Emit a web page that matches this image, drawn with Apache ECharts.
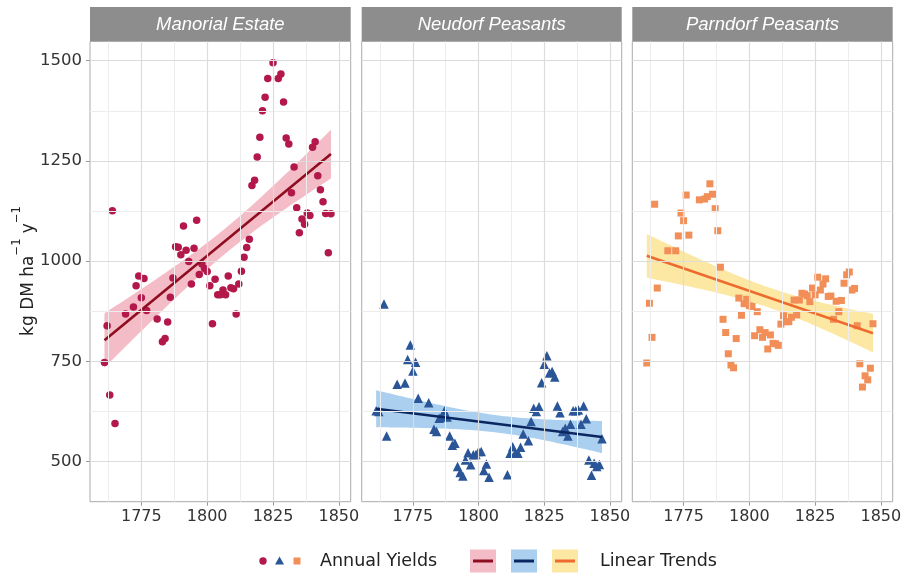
<!DOCTYPE html>
<html><head><meta charset="utf-8">
<script src="https://cdn.jsdelivr.net/npm/echarts@6/dist/echarts.min.js"></script>
<style>html,body{margin:0;padding:0;background:#fff}#c{width:907px;height:573px}</style>
</head><body><div id="c"></div>
<script>
// ---------- data ----------
const panelTitles = ['Manorial Estate', 'Neudorf Peasants', 'Parndorf Peasants'];
const xTicks = [1775, 1800, 1825, 1850];
const xMinor = [1762.5, 1787.5, 1812.5, 1837.5];
const yTicks = [500, 750, 1000, 1250, 1500];
const yMinor = [625, 875, 1125, 1375];

const manorialYears = [1761,1762,1763,1764,1765,1769,1772,1773,1774,1775,1776,1777,1781,1783,1784,1785,1786,1787,1788,1789,1790,1791,1792,1793,1794,1795,1796,1797,1798,1799,1800,1801,1802,1803,1804,1805,1806,1807,1808,1809,1810,1811,1812,1813,1814,1815,1816,1817,1818,1819,1820,1821,1822,1823,1825,1827,1828,1829,1830,1831,1832,1833,1834,1835,1836,1837,1838,1839,1840,1841,1842,1843,1844,1845,1846,1847];
const manorialYields = [747,839,666,1126,595,868,886,939,963,909,957,877,856,799,807,848,910,958,1036,1035,1016,1088,1027,999,943,1032,1102,967,993,982,974,939,844,955,916,916,928,916,963,934,931,868,943,975,1010,1034,1055,1189,1202,1260,1309,1375,1409,1456,1495,1456,1467,1397,1307,1292,1171,1235,1133,1071,1105,1092,1120,1114,1284,1298,1213,1178,1148,1119,1021,1118];

const neudorfYears = [1761,1762,1764,1765,1769,1772,1773,1774,1775,1776,1777,1781,1783,1784,1785,1786,1787,1788,1789,1790,1791,1792,1793,1794,1795,1796,1797,1798,1799,1800,1801,1802,1803,1804,1811,1812,1813,1814,1815,1816,1817,1819,1820,1821,1822,1823,1824,1825,1826,1827,1828,1829,1830,1831,1832,1833,1834,1835,1836,1837,1838,1839,1840,1841,1842,1843,1844,1845,1846,1847];
const neudorfYields = [627,625,893,564,693,696,755,791,726,748,658,647,581,575,608,612,626,611,564,541,546,488,473,464,504,522,492,517,518,525,525,478,494,461,467,521,537,521,521,536,569,552,600,633,625,637,697,743,764,721,725,711,639,622,575,583,564,593,627,627,629,593,639,607,504,466,496,488,493,557];

const parndorfYears = [1761,1762,1763,1764,1765,1769,1772,1773,1774,1775,1776,1777,1781,1783,1784,1785,1786,1787,1788,1789,1790,1791,1792,1793,1794,1795,1796,1797,1798,1799,1800,1801,1802,1803,1804,1805,1806,1807,1808,1809,1810,1811,1812,1813,1814,1815,1816,1817,1818,1819,1820,1821,1822,1823,1824,1825,1826,1827,1828,1829,1830,1831,1832,1833,1834,1835,1836,1837,1838,1839,1840,1841,1842,1843,1844,1845,1846,1847];
const parndorfYields = [746,895,810,1142,933,1026,1026,1063,1120,1101,1165,1065,1153,1155,1161,1193,1167,1131,1076,985,855,822,769,741,734,807,908,865,894,905,889,887,814,874,829,810,822,781,816,795,794,790,843,864,849,849,860,903,866,903,920,918,914,899,933,916,960,928,943,956,912,913,855,900,874,902,945,966,973,928,932,839,744,686,714,704,733,844];

// ---------- styling ----------
const X_MIN = 1755.5, X_MAX = 1854.5, Y_MIN = 400, Y_MAX = 1548;
const GRID_TOP = 41.5, GRID_H = 460.2;
const gridLefts = [90, 361.7, 632.3];
const gridWidths = [260.7, 260, 260.4];
const pointColors = ['#B3184B', '#2A5698', '#F28F58'];
const lineColors = ['#8E0E1F', '#0C2660', '#EE6B2F'];
const ribbonColors = ['#F4BCC7', '#AACFEF', '#FCE8A3'];
const symbols = ['circle', 'triangle', 'rect'];
const symbolSizes = [7.5, 9.5, 7];
const FONT = 'DejaVu Sans';

const panels = [
  [manorialYears, manorialYields],
  [neudorfYears, neudorfYields],
  [parndorfYears, parndorfYields]
];

// ordinary least squares fit with 95% confidence band (like geom_smooth(method = "lm"))
function linFit(xs, ys, nPts) {
  const n = xs.length;
  const mx = xs.reduce((a, b) => a + b, 0) / n;
  const my = ys.reduce((a, b) => a + b, 0) / n;
  let sxx = 0, sxy = 0;
  for (let i = 0; i < n; i++) { sxx += (xs[i] - mx) ** 2; sxy += (xs[i] - mx) * (ys[i] - my); }
  const b = sxy / sxx, a = my - b * mx;
  let sse = 0;
  for (let i = 0; i < n; i++) sse += (ys[i] - a - b * xs[i]) ** 2;
  const s = Math.sqrt(sse / (n - 2));
  const df = n - 2, z = 1.959964;
  const t = z + (z ** 3 + z) / (4 * df) + (5 * z ** 5 + 16 * z ** 3 + 3 * z) / (96 * df * df);
  const x0 = Math.min(...xs), x1 = Math.max(...xs);
  const band = [];
  for (let k = 0; k <= nPts; k++) {
    const x = x0 + (x1 - x0) * k / nPts;
    const yh = a + b * x;
    const se = s * Math.sqrt(1 / n + (x - mx) ** 2 / sxx);
    band.push([x, yh - t * se, yh + t * se]);
  }
  return { band, line: [[x0, a + b * x0], [x1, a + b * x1]] };
}

const plain = v => String(v);
const grids = [], xAxes = [], yAxes = [], series = [], graphics = [];

panels.forEach((p, i) => {
  grids.push({ left: gridLefts[i], top: GRID_TOP, width: gridWidths[i], height: GRID_H,
    show: true, borderColor: '#ABABAB', borderWidth: 1, backgroundColor: '#fff', containLabel: false });
  xAxes.push({ type: 'value', gridIndex: i, min: X_MIN, max: X_MAX,
    axisLine: { show: false }, splitLine: { show: false },
    axisTick: { show: true, length: 4, lineStyle: { color: '#9A9A9A', width: 1 }, customValues: xTicks },
    axisLabel: { show: true, customValues: xTicks, formatter: plain, fontSize: 16, color: '#333', fontFamily: FONT, margin: 7 } });
  yAxes.push({ type: 'value', gridIndex: i, min: Y_MIN, max: Y_MAX,
    axisLine: { show: false }, splitLine: { show: false },
    axisTick: { show: i === 0, length: 4, lineStyle: { color: '#9A9A9A', width: 1 }, customValues: yTicks },
    axisLabel: { show: i === 0, customValues: yTicks, formatter: plain, fontSize: 16.5, color: '#333', fontFamily: FONT, margin: 8 } });

  // grid lines
  const ml = [];
  xMinor.forEach(v => ml.push({ xAxis: v, lineStyle: { color: '#EDEDED', width: 1 } }));
  yMinor.forEach(v => ml.push({ yAxis: v, lineStyle: { color: '#EDEDED', width: 1 } }));
  xTicks.forEach(v => ml.push({ xAxis: v, lineStyle: { color: '#DCDCDC', width: 1.2 } }));
  yTicks.forEach(v => ml.push({ yAxis: v, lineStyle: { color: '#DCDCDC', width: 1.2 } }));
  series.push({ type: 'scatter', xAxisIndex: i, yAxisIndex: i, data: [], z: 1, silent: true,
    markLine: { silent: true, symbol: ['none', 'none'], label: { show: false }, animation: false,
      lineStyle: { type: 'solid' }, emphasis: { disabled: true }, data: ml } });

  const fit = linFit(p[0], p[1], 60);
  // confidence ribbon
  series.push({ type: 'custom', xAxisIndex: i, yAxisIndex: i, z: 2, silent: true,
    data: [[fit.band[0][0], fit.band[0][1]]],
    renderItem: function (params, api) {
      if (params.dataIndex !== 0) return null;
      const pts = [];
      fit.band.forEach(b => pts.push(api.coord([b[0], b[2]])));
      for (let k = fit.band.length - 1; k >= 0; k--) pts.push(api.coord([fit.band[k][0], fit.band[k][1]]));
      return { type: 'polygon', shape: { points: pts }, style: { fill: ribbonColors[i] } };
    } });
  // points
  series.push({ type: 'scatter', xAxisIndex: i, yAxisIndex: i, z: 3, silent: true,
    symbol: symbols[i], symbolSize: symbolSizes[i],
    itemStyle: { color: pointColors[i], opacity: 1, borderWidth: 0, borderColor: pointColors[i] },
    emphasis: { disabled: true },
    data: p[0].map((x, k) => [x, p[1][k]]) });
  // trend line
  series.push({ type: 'line', xAxisIndex: i, yAxisIndex: i, z: 4, symbol: 'none', silent: true,
    lineStyle: { color: lineColors[i], width: 2.6 }, data: fit.line });

  // facet strip
  graphics.push({ type: 'rect', shape: { x: gridLefts[i], y: 7, width: gridWidths[i], height: 34 },
    style: { fill: '#8D8D8D' }, z: 10 });
  graphics.push({ type: 'text', x: gridLefts[i] + gridWidths[i] / 2, y: 24.5, z: 11,
    style: { text: panelTitles[i], fill: '#fff', fontSize: 18.5, fontStyle: 'italic',
      fontFamily: 'Liberation Sans', align: 'center', verticalAlign: 'middle' } });
});

// y-axis title
graphics.push({ type: 'text', x: 24, y: 271, rotation: Math.PI / 2, z: 11,
  style: { text: '{n|kg DM ha}{s|\u22121}{n| y}{s|\u22121}', align: 'center', verticalAlign: 'middle',
    rich: {
      n: { fontSize: 17, fontFamily: FONT, fill: '#222', lineHeight: 26, verticalAlign: 'bottom' },
      s: { fontSize: 11.5, fontFamily: FONT, fill: '#222', lineHeight: 12, verticalAlign: 'top' }
    } } });

// legend
const LY = 561;
graphics.push({ type: 'circle', shape: { cx: 263, cy: LY, r: 3.7 }, style: { fill: pointColors[0] } });
graphics.push({ type: 'polygon', shape: { points: [[279.5, LY - 4.5], [284, LY + 3.5], [275, LY + 3.5]] }, style: { fill: pointColors[1] } });
graphics.push({ type: 'rect', shape: { x: 293.5, y: LY - 3.5, width: 7, height: 7 }, style: { fill: pointColors[2] } });
graphics.push({ type: 'text', x: 320, y: LY, style: { text: 'Annual Yields', fontSize: 17.5, fontFamily: FONT, fill: '#222', verticalAlign: 'middle' } });
const keyX = [470, 511, 552];
keyX.forEach((kx, i) => {
  graphics.push({ type: 'rect', shape: { x: kx, y: LY - 11.5, width: 26, height: 23 }, style: { fill: ribbonColors[i] } });
  graphics.push({ type: 'line', shape: { x1: kx + 3, y1: LY, x2: kx + 23, y2: LY }, style: { stroke: lineColors[i], lineWidth: 3 } });
});
graphics.push({ type: 'text', x: 600, y: LY, style: { text: 'Linear Trends', fontSize: 17.5, fontFamily: FONT, fill: '#222', verticalAlign: 'middle' } });

const chart = echarts.init(document.getElementById('c'), null, { renderer: 'canvas' });
chart.setOption({
  animation: false,
  backgroundColor: '#fff',
  grid: grids, xAxis: xAxes, yAxis: yAxes, series: series, graphic: graphics
});
</script>
</body></html>
